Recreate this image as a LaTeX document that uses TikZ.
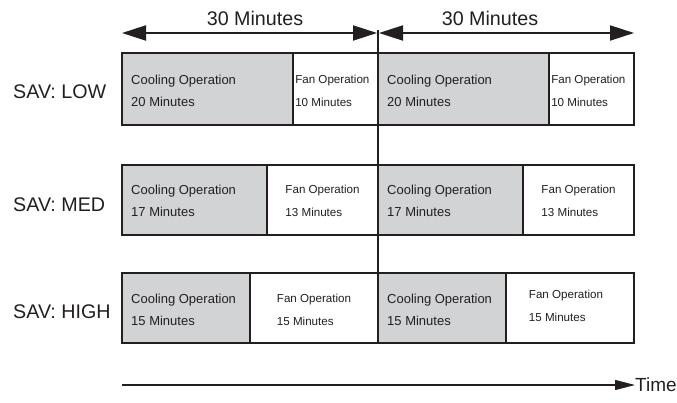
\documentclass[tikz,border=0pt]{standalone}
\usepackage{fontspec}
\setmainfont{Liberation Sans}
\usetikzlibrary{arrows.meta}
\definecolor{coolgray}{RGB}{209,211,212}
\definecolor{ink}{RGB}{35,31,32}
\tikzset{
  cell/.style={draw=ink, line width=1.6pt, inner sep=0pt, outer sep=0pt, anchor=north west},
  cool/.style={cell, fill=coolgray},
  fan/.style={cell, fill=white},
  frame/.style={draw=ink, line width=2.2pt},
  ctext/.style={font=\fontsize{13}{22.5}\selectfont, align=left, anchor=west, inner sep=0pt, text=ink},
  ftext/.style={font=\fontsize{11.6}{22.5}\selectfont, align=left, anchor=center, inner sep=0pt, text=ink},
  big/.style={font=\fontsize{19.7}{22}\selectfont, inner sep=0pt, text=ink},
  dim/.style={draw=ink, line width=2pt, {Triangle[length=24pt,width=15pt]}-{Triangle[length=24pt,width=15pt]}},
  timeline/.style={draw=ink, line width=1.2pt, -{Triangle[length=20pt,width=10pt]}},
  divline/.style={draw=ink, line width=1.5pt},
}
\begin{document}
\begin{tikzpicture}[x=1pt,y=-1pt]
\useasboundingbox (0,0) rectangle (677,403);

% dimension arrows
\coordinate (d1l) at (122,33);
\coordinate (d1r) at (377,33);
\coordinate (d2l) at (379,33);
\coordinate (d2r) at (634,33);
\draw[dim] (d1l) -- (d1r);
\draw[dim] (d2l) -- (d2r);
\node[big] (m1) at (255,18) {30 Minutes};
\node[big] (m2) at (490,18) {30 Minutes};

% vertical divider
\coordinate (vtop) at (378,30);
\coordinate (vbot) at (378,273);
\draw[divline] (vtop) -- (vbot);

% Row 1: LOW (20/10)
\node[cool, minimum width=170.7pt, minimum height=72pt] (c1a) at (122,53) {};
\node[fan,  minimum width=85.3pt,  minimum height=72pt] (f1a) at (292.7,53) {};
\node[cool, minimum width=170.7pt, minimum height=72pt] (c1b) at (378,53) {};
\node[fan,  minimum width=85.3pt,  minimum height=72pt] (f1b) at (548.7,53) {};
\draw[frame] (c1a.north west) rectangle (f1a.south east);
\draw[frame] (c1b.north west) rectangle (f1b.south east);
\node[ctext] (tc1a) at ([xshift=9pt,yshift=-2pt]c1a.west) {Cooling Operation\\20 Minutes};
\node[ftext] (tf1a) at ([xshift=-3pt,yshift=-2pt]f1a.center) {Fan Operation\\10 Minutes};
\node[ctext] (tc1b) at ([xshift=9pt,yshift=-2pt]c1b.west) {Cooling Operation\\20 Minutes};
\node[ftext] (tf1b) at ([xshift=-3pt,yshift=-2pt]f1b.center) {Fan Operation\\10 Minutes};
\node[big, anchor=west] (l1) at (13,92) {SAV: LOW};

% Row 2: MED (17/13)
\node[cool, minimum width=145.1pt, minimum height=70pt] (c2a) at (122,165) {};
\node[fan,  minimum width=110.9pt, minimum height=70pt] (f2a) at (267.1,165) {};
\node[cool, minimum width=145.1pt, minimum height=70pt] (c2b) at (378,165) {};
\node[fan,  minimum width=110.9pt, minimum height=70pt] (f2b) at (523.1,165) {};
\draw[frame] (c2a.north west) rectangle (f2a.south east);
\draw[frame] (c2b.north west) rectangle (f2b.south east);
\node[ctext] (tc2a) at ([xshift=9pt,yshift=-1pt]c2a.west) {Cooling Operation\\17 Minutes};
\node[ftext] (tf2a) at ([yshift=-1pt]f2a.center) {Fan Operation\\13 Minutes};
\node[ctext] (tc2b) at ([xshift=9pt,yshift=-1pt]c2b.west) {Cooling Operation\\17 Minutes};
\node[ftext] (tf2b) at ([yshift=-1pt]f2b.center) {Fan Operation\\13 Minutes};
\node[big, anchor=west] (l2) at (13,205) {SAV: MED};

% Row 3: HIGH (15/15)
\node[cool, minimum width=128pt, minimum height=70pt] (c3a) at (122,273) {};
\node[fan,  minimum width=128pt, minimum height=70pt] (f3a) at (250,273) {};
\node[cool, minimum width=128pt, minimum height=70pt] (c3b) at (378,273) {};
\node[fan,  minimum width=128pt, minimum height=70pt] (f3b) at (506,273) {};
\draw[frame] (c3a.north west) rectangle (f3a.south east);
\draw[frame] (c3b.north west) rectangle (f3b.south east);
\node[ctext] (tc3a) at ([xshift=9pt,yshift=-2pt]c3a.west) {Cooling Operation\\15 Minutes};
\node[ftext] (tf3a) at ([yshift=-2pt]f3a.center) {Fan Operation\\15 Minutes};
\node[ctext] (tc3b) at ([xshift=9pt,yshift=-2pt]c3b.west) {Cooling Operation\\15 Minutes};
\node[ftext] (tf3b) at ([xshift=-4pt,yshift=2pt]f3b.center) {Fan Operation\\15 Minutes};
\node[big, anchor=west] (l3) at (13,312) {SAV: HIGH};

% time axis
\coordinate (tstart) at (122,385);
\node[big, anchor=west, font=\fontsize{19}{22}\selectfont] (time) at (635,385) {Time};
\draw[timeline] (tstart) -- (time.west);
\end{tikzpicture}
\end{document}
